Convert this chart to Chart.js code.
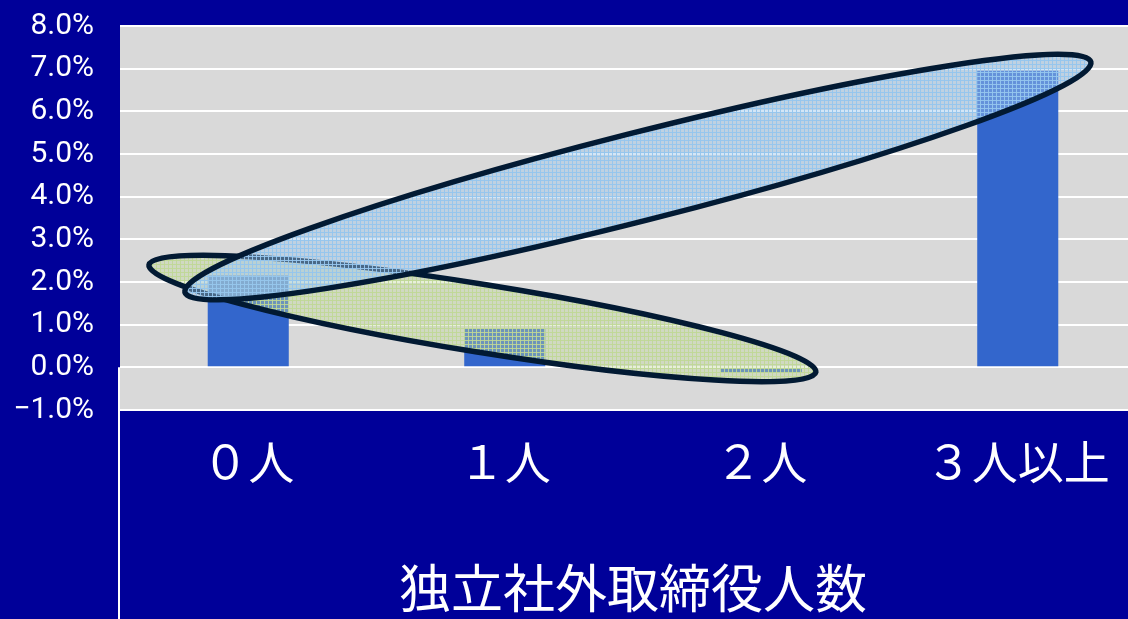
<!DOCTYPE html>
<html>
<head>
<meta charset="utf-8">
<script src="https://cdn.jsdelivr.net/npm/chart.js@4.4.1/dist/chart.umd.min.js"></script>
<style>
  html, body { margin: 0; padding: 0; background: #000099; overflow: hidden; }
  #wrap { width: 1146px; height: 619px; }
</style>
</head>
<body>
<div id="wrap"><canvas id="boardChart" width="1146" height="619"></canvas></div>
<script>
const categories = ['０人', '１人', '２人', '３人以上'];
const rates = [2.15, 0.9, -0.12, 6.95];
const yMin = -1;
const yMax = 8;
const yStep = 1;
const axisTitle = '独立社外取締役人数';

// ovals drawn over the chart, in data units (category index, %)
const ovals = [
  { from: [-0.387, 2.40], to: [2.213, -0.11], half: 34, base: 'rgba(195,218,160,0.4)', dot: 'rgba(192,216,150,0.9)' },
  { from: [-0.247, 1.76], to: [3.285, 7.16], half: 44, base: 'rgba(160,200,235,0.45)', dot: 'rgba(150,198,238,0.95)' }
];

function makePattern(ctx, base, dot) {
  const c = document.createElement('canvas');
  c.width = 4; c.height = 4;
  const p = c.getContext('2d');
  p.fillStyle = base;
  p.fillRect(0, 0, 4, 4);
  p.fillStyle = dot;
  p.fillRect(0, 0, 4, 1);
  p.fillRect(0, 0, 1, 4);
  return ctx.createPattern(c, 'repeat');
}

const plotBg = {
  id: 'plotBg',
  beforeDraw(chart) {
    const { ctx, chartArea: a } = chart;
    ctx.save();
    ctx.fillStyle = '#d9d9d9';
    ctx.fillRect(a.left, a.top, a.right - a.left, a.bottom - a.top);
    ctx.restore();
  },
  afterDraw(chart) {
    const { ctx, chartArea: a } = chart;
    const y0 = chart.scales.y.getPixelForValue(0);
    ctx.save();
    ctx.strokeStyle = '#ffffff';
    ctx.lineWidth = 2;
    ctx.beginPath();
    ctx.moveTo(a.left - 1, y0);
    ctx.lineTo(a.left - 1, chart.height);
    ctx.stroke();
    ctx.restore();
  }
};

const ovalPlugin = {
  id: 'ovals',
  afterDatasetsDraw(chart) {
    const { ctx } = chart;
    const xs = chart.scales.x, ys = chart.scales.y;
    const step = xs.getPixelForValue(1) - xs.getPixelForValue(0);
    const px = v => xs.getPixelForValue(0) + v * step;
    ovals.forEach(o => {
      const x1 = px(o.from[0]), y1 = ys.getPixelForValue(o.from[1]);
      const x2 = px(o.to[0]), y2 = ys.getPixelForValue(o.to[1]);
      const cx = (x1 + x2) / 2, cy = (y1 + y2) / 2;
      const len = Math.hypot(x2 - x1, y2 - y1) / 2;
      const ang = Math.atan2(y2 - y1, x2 - x1);
      ctx.save();
      ctx.beginPath();
      ctx.ellipse(cx, cy, len, o.half, ang, 0, Math.PI * 2);
      ctx.fillStyle = makePattern(ctx, o.base, o.dot);
      ctx.fill();
      ctx.lineWidth = 5.5;
      ctx.strokeStyle = '#021a33';
      ctx.stroke();
      ctx.restore();
    });
  }
};

const ctx = document.getElementById('boardChart').getContext('2d');
const boardChart = new Chart(ctx, {
  type: 'bar',
  data: {
    labels: categories,
    datasets: [{
      data: rates,
      backgroundColor: '#3366cc',
      borderWidth: 0,
      categoryPercentage: 1,
      barPercentage: 0.316
    }]
  },
  options: {
    responsive: false,
    animation: false,
    layout: { padding: { top: 26, right: 0, left: 0, bottom: 0 } },
    plugins: {
      legend: { display: false },
      tooltip: { enabled: false }
    },
    scales: {
      x: {
        grid: { display: false, drawTicks: false },
        border: { display: false },
        ticks: {
          color: '#ffffff',
          padding: 24,
          font: { family: "'Noto Sans CJK JP'", size: 46 }
        },
        title: {
          display: true,
          text: axisTitle,
          color: '#ffffff',
          padding: { top: 0, bottom: 0 },
          font: { family: "'Noto Sans CJK JP'", size: 52 }
        },
        afterFit(scale) { scale.height = 209; }
      },
      y: {
        min: yMin,
        max: yMax,
        grid: { color: '#ffffff', lineWidth: 2, drawTicks: false },
        border: { display: false },
        ticks: {
          stepSize: yStep,
          autoSkip: false,
          color: '#ffffff',
          padding: 26,
          font: { family: "Roboto, 'Noto Sans'", size: 30 },
          callback: v => (v < 0 ? '\u2212' : '') + Math.abs(v).toFixed(1) + '%'
        },
        afterFit(scale) {
          scale.width = 120;
          scale.paddingTop = 0;
          scale.paddingBottom = 0;
        }
      }
    }
  },
  plugins: [plotBg, ovalPlugin]
});
</script>
</body>
</html>
